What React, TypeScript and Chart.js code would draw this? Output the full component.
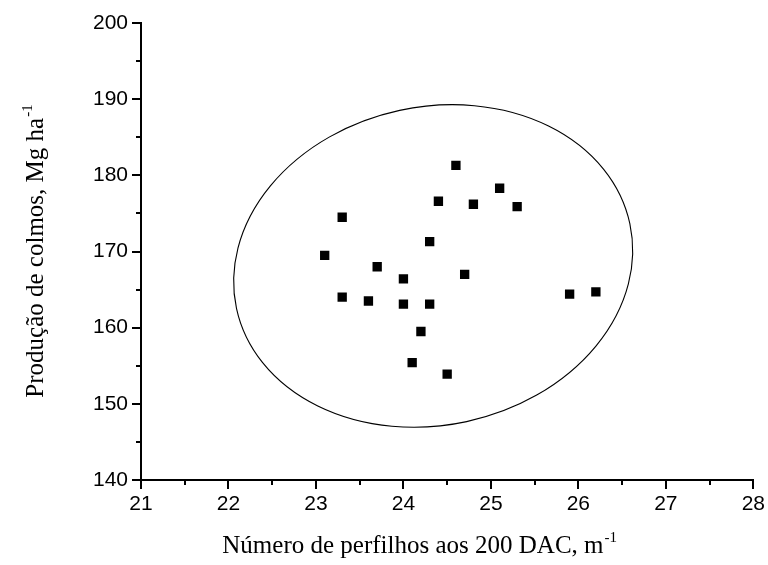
import React, { useEffect, useRef } from "react";
import { Chart, registerables } from "chart.js";

Chart.register(...registerables);

// Tillers per metre at 200 DAC (x) and stalk yield, Mg/ha (y)
const perfilhos = [24.6, 24.4, 25.1, 24.8, 25.3, 24.3, 24.0, 24.7, 24.0, 24.3, 25.9, 26.2, 24.2, 24.1, 24.5, 23.1, 23.7, 23.3, 23.6, 23.3];
const producao = [181.3, 176.6, 178.3, 176.2, 175.9, 171.3, 166.4, 167.0, 163.1, 163.1, 164.4, 164.7, 159.5, 155.4, 153.9, 169.5, 168.0, 164.0, 163.5, 174.5];

const xTickValues = [21, 22, 23, 24, 25, 26, 27, 28];
const xMinorTicks = [21.5, 22.5, 23.5, 24.5, 25.5, 26.5, 27.5];
const yTickValues = [140, 150, 160, 170, 180, 190, 200];
const yMinorTicks = [145, 155, 165, 175, 185, 195];

// Confidence ellipse: centre (x, y), semi-axes in x-units and y-units, tilt in degrees
const ellipseCenter = [24.34, 168.1];
const ellipseSemiAxes = [2.3, 20.9];
const ellipseTiltDeg = 12.15;

const xTitle = "Número de perfilhos aos 200 DAC, m";
const yTitle = "Produção de colmos, Mg ha";
const unitExponent = "-1";

const tickFont = { family: '"Liberation Sans", Arial, sans-serif', size: 21 };
const titleFamily = '"Liberation Serif", "Times New Roman", serif';

const decorations = {
  id: "decorations",
  beforeDatasetsDraw(chart: any) {
    const { ctx, scales } = chart;
    const xs = scales.x;
    const ys = scales.y;
    const cx = xs.getPixelForValue(ellipseCenter[0]);
    const cy = ys.getPixelForValue(ellipseCenter[1]);
    const rx = xs.getPixelForValue(ellipseCenter[0] + ellipseSemiAxes[0]) - cx;
    const ry = cy - ys.getPixelForValue(ellipseCenter[1] + ellipseSemiAxes[1]);
    ctx.save();
    ctx.strokeStyle = "#000";
    ctx.lineWidth = 1.1;
    ctx.beginPath();
    ctx.ellipse(cx, cy, rx, ry, (-ellipseTiltDeg * Math.PI) / 180, 0, Math.PI * 2);
    ctx.stroke();
    ctx.restore();
  },
  afterDraw(chart: any) {
    const { ctx, scales, chartArea } = chart;
    const xs = scales.x;
    const ys = scales.y;
    ctx.save();
    ctx.strokeStyle = "#000";
    ctx.lineWidth = 2;
    ctx.beginPath();
    for (const v of xMinorTicks) {
      const px = Math.round(xs.getPixelForValue(v));
      ctx.moveTo(px, chartArea.bottom);
      ctx.lineTo(px, chartArea.bottom + 5);
    }
    for (const v of yMinorTicks) {
      const py = Math.round(ys.getPixelForValue(v));
      ctx.moveTo(chartArea.left, py);
      ctx.lineTo(chartArea.left - 5, py);
    }
    ctx.stroke();

    // axis titles with superscript unit exponent
    ctx.fillStyle = "#000";
    ctx.textBaseline = "alphabetic";
    const mainSize = 25;
    const supSize = 15;
    const drawTitle = (text: string, centerX: number, baseY: number) => {
      ctx.font = `${mainSize}px ${titleFamily}`;
      const w1 = ctx.measureText(text).width;
      ctx.font = `${supSize}px ${titleFamily}`;
      const w2 = ctx.measureText(unitExponent).width;
      const start = centerX - (w1 + w2) / 2;
      ctx.font = `${mainSize}px ${titleFamily}`;
      ctx.textAlign = "left";
      ctx.fillText(text, start, baseY);
      ctx.font = `${supSize}px ${titleFamily}`;
      ctx.fillText(unitExponent, start + w1 + 1, baseY - 11);
    };
    drawTitle(xTitle, (chartArea.left + chartArea.right) / 2 - 28, 553);

    ctx.save();
    ctx.translate(43, (chartArea.top + chartArea.bottom) / 2);
    ctx.rotate(-Math.PI / 2);
    drawTitle(yTitle, 0, 0);
    ctx.restore();
    ctx.restore();
  },
};

export default function App() {
  const canvasRef = useRef<HTMLCanvasElement | null>(null);

  useEffect(() => {
    const canvas = canvasRef.current;
    if (!canvas) return;
    const chart = new Chart(canvas, {
      type: "scatter",
      data: {
        datasets: [
          {
            data: perfilhos.map((x, i) => ({ x, y: producao[i] })),
            pointStyle: "rect",
            pointRadius: 6.6,
            pointHoverRadius: 6.6,
            backgroundColor: "#000",
            borderColor: "#000",
            borderWidth: 0,
          },
        ],
      },
      options: {
        responsive: false,
        devicePixelRatio: 1,
        animation: false,
        events: [],
        layout: { padding: { top: 23, right: 12, left: 0, bottom: 0 } },
        plugins: { legend: { display: false }, tooltip: { enabled: false } },
        scales: {
          x: {
            type: "linear",
            min: 21,
            max: 28,
            afterBuildTicks: (s: any) => {
              s.ticks = xTickValues.map((value) => ({ value }));
            },
            afterFit: (s: any) => {
              s.height = 85;
            },
            grid: { drawOnChartArea: false, drawTicks: true, tickLength: 9, color: "#000", lineWidth: 2 },
            border: { display: true, color: "#000", width: 2 },
            ticks: { color: "#000", font: tickFont, padding: 3, maxRotation: 0, autoSkip: false },
          },
          y: {
            type: "linear",
            min: 140,
            max: 200,
            afterBuildTicks: (s: any) => {
              s.ticks = yTickValues.map((value) => ({ value }));
            },
            afterFit: (s: any) => {
              s.width = 141;
            },
            grid: { drawOnChartArea: false, drawTicks: true, tickLength: 9, color: "#000", lineWidth: 2 },
            border: { display: true, color: "#000", width: 2 },
            ticks: { color: "#000", font: tickFont, padding: 4, autoSkip: false },
          },
        },
      },
      plugins: [decorations],
    });
    return () => chart.destroy();
  }, []);

  return (
    <div style={{ position: "fixed", left: 0, top: 0, width: 768, height: 565, background: "#fff" }}>
      <canvas ref={canvasRef} width={768} height={565} style={{ display: "block" }} />
    </div>
  );
}
